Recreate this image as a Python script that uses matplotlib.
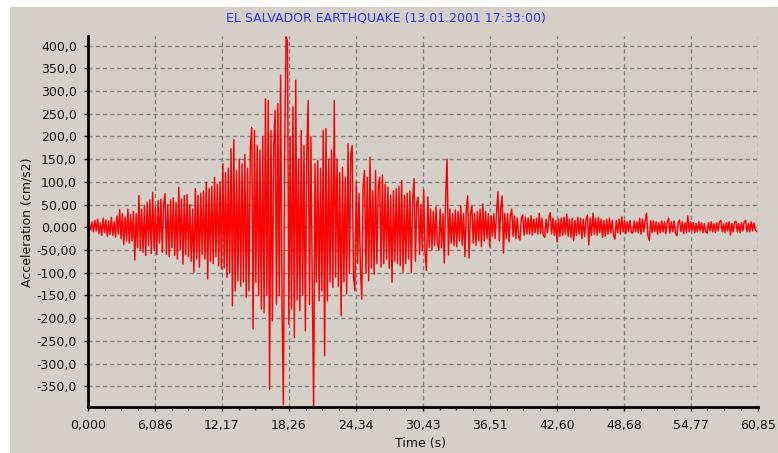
import numpy as np
import matplotlib
matplotlib.use("Agg")
import matplotlib.pyplot as plt
from matplotlib.patches import Rectangle

dt = 0.125
accel = [
    0, 8, -6, 12, -10, 15, -8, 18,
    -14, 10, -18, 20, -12, 16, -20, 14,
    -16, 22, -18, 12, -22, 25, -15, 39,
    -25, 30, -38, 22, -30, 40, -35, 28,
    -30, 35, -72, 30, -45, 70, -50, 40,
    -55, 48, -62, 55, -40, 60, -58, 77,
    -51, 45, -60, 58, -35, 62, -55, 50,
    74, -59, 50, -65, 60, -45, 65, -62,
    55, -70, 88, -50, 62, -81, 70, -60,
    72, -65, 50, -75, 40, -99, 85, -70,
    70, -88, 75, -60, 80, -70, 99, -114,
    85, -75, 90, -80, 110, -65, 95, -85,
    100, -92, 140, -90, 120, -110, 130, -100,
    173, -173, 193, -140, 125, -118, 150, -130,
    140, -120, 160, -154, 130, -140, 175, 220,
    -224, 213, -121, 180, -150, 170, -180, 200,
    -188, 283, -150, 279, -357, 213, -206, 180,
    257, -169, 272, -150, 335, -165, -390, 180,
    419, 410, -213, 199, -180, 265, -243, 324,
    -160, 150, -184, 213, -150, 180, -228, 160,
    279, -170, 199, -120, -395, 140, -121, 147,
    -162, 130, -140, 213, -283, 217, -162, 150,
    -120, 170, -132, 279, -110, 150, -130, 120,
    -195, 132, -120, 110, -147, 184, -100, 160,
    180, -110, -140, 100, -80, 74, -90, -158,
    90, 125, -100, 110, -118, 154, -90, 80,
    -103, 125, -80, 90, 110, -88, 115, -80,
    95, -70, 88, -90, 70, -121, 80, -75,
    85, -80, 90, -85, 103, -99, 70, -80,
    75, -70, 80, -99, 60, 107, -75, 55,
    66, -60, 50, -51, 82, -57, -95, 67,
    -45, 40, -50, 35, -40, 45, -35, -50,
    40, -45, 30, -79, 67, 150, -61, 40,
    -35, 30, -40, 38, -43, 35, -30, 47,
    -40, 30, -65, 40, 69, -68, 30, 47,
    -35, 30, -40, 35, -30, 40, -43, 51,
    -30, 35, -25, 30, -43, 25, -20, 30,
    -25, 35, 78, -30, 40, 69, -57, 30,
    -25, 30, -32, 25, 40, -20, 25, -25,
    20, -22, -28, 20, 27, -18, 22, -15,
    20, -15, 25, -17, 18, -12, 20, -15,
    31, -14, 20, -18, -22, 18, -12, 22,
    32, -15, 20, -18, 15, -32, 18, -20,
    20, -18, 22, -15, 29, -20, 18, -22,
    20, -30, 15, -18, 22, -15, 20, -25,
    18, -20, 15, 27, -39, 20, -18, 31,
    -15, 20, -18, 22, -12, 18, -22, 15,
    -20, 18, -15, 20, -12, 15, -18, -26,
    15, -12, 18, -15, 23, -10, 15, -14,
    12, -10, 15, -12, -13, 14, -10, 12,
    -12, 20, -15, 18, -10, 15, 31, -18,
    -29, 15, -12, 14, -10, 12, -15, 10,
    -12, 14, -10, 12, -14, 10, 20, -13,
    12, -10, 14, -12, -19, 10, 16, -10,
    12, -14, 10, -12, 25, -10, 12, -8,
    10, -12, 8, -10, 12, -8, 10, -12,
    8, -10, -13, 10, -8, 12, -10, 8,
    -12, 10, -8, 12, 15, -10, 8, -12,
    10, -8, 12, -17, 8, -10, 12, 13,
    -10, 8, -12, 10, -8, 12, 15, -10,
    8, -10, 12, -8, 10, -6, -9,
]
t = np.arange(len(accel)) * dt

x_ticks = np.linspace(0, 60.85, 11)
x_labels = ["0,000", "6,086", "12,17", "18,26", "24,34", "30,43",
            "36,51", "42,60", "48,68", "54,77", "60,85"]
y_ticks = np.arange(-350, 401, 50)
y_labels = ["-350,0", "-300,0", "-250,0", "-200,0", "-150,0", "-100,0",
            "-50,00", "0,000", "50,00", "100,0", "150,0", "200,0",
            "250,0", "300,0", "350,0", "400,0"]

bg = "#D4D0C8"
W, H = 778, 453

plt.rcParams["lines.scale_dashes"] = False
fig = plt.figure(figsize=(W / 100, H / 100), dpi=100, facecolor="white")
fig.patches.append(Rectangle((10 / W, 0), 1 - 10 / W, 1 - 7 / H,
                             transform=fig.transFigure, facecolor=bg,
                             edgecolor="none", zorder=-10))

ax = fig.add_axes([88 / W, 1 - 406.7 / H, (757.7 - 88) / W, (406.7 - 36) / H])
ax.set_facecolor(bg)
ax.plot(t, accel, color="#FF0000", lw=1.05)

ax.set_xlim(0, 60.85)
ax.set_ylim(-395, 421)
ax.set_xticks(x_ticks)
ax.set_xticklabels(x_labels)
ax.set_yticks(y_ticks)
ax.set_yticklabels(y_labels)
ax.set_xticks(np.linspace(0, 60.85, 41), minor=True)

ax.set_axisbelow(True)
ax.grid(True, which="major", color="#808080", lw=1.0, linestyle=(0, (3, 2.2)))

for side in ["top", "right"]:
    ax.spines[side].set_visible(False)
for side in ["left", "bottom"]:
    ax.spines[side].set_linewidth(2)
    ax.spines[side].set_color("black")

ax.tick_params(axis="both", which="major", length=3, width=1, color="black",
               labelsize=9, labelcolor="#111111")
ax.tick_params(axis="x", which="minor", length=2, width=1, color="black")
ax.tick_params(axis="x", which="major", pad=6)
ax.tick_params(axis="y", which="major", pad=5)

fig.text(386 / W, 1 - 18 / H, "EL SALVADOR EARTHQUAKE (13.01.2001 17:33:00)",
         color="#3030FF", fontsize=9, ha="center", va="center")
fig.text(27 / W, 1 - 222 / H, "Acceleration (cm/s2)", rotation=90,
         fontsize=9, ha="center", va="center", color="#111111")
fig.text(421 / W, 1 - 443 / H, "Time (s)", fontsize=9, ha="center",
         va="center", color="#111111")

fig.savefig("out.png", dpi=100, facecolor=fig.get_facecolor())
